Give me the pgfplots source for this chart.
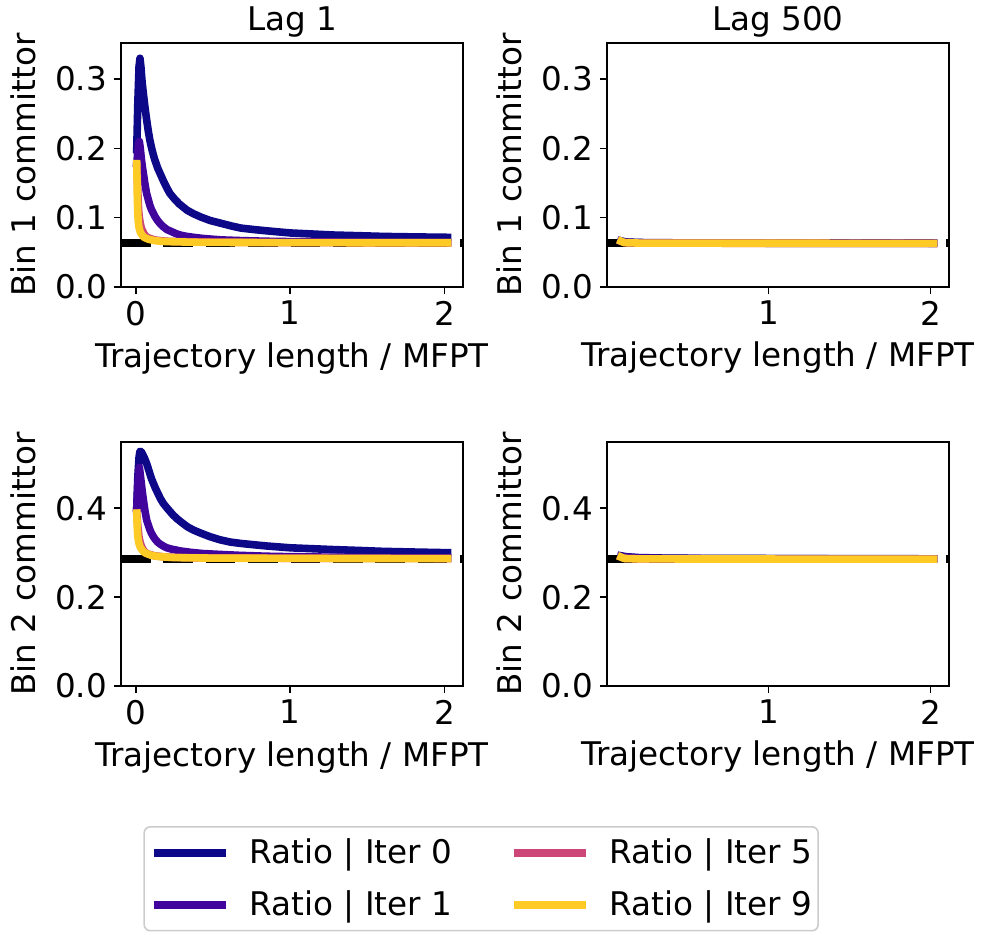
\documentclass[border=0pt]{standalone}
\usepackage{fontspec}
\setmainfont{DejaVu Sans}
\usepackage{pgfplots}
\pgfplotsset{compat=1.18}
\definecolor{c0}{HTML}{0D0887}
\definecolor{c1}{HTML}{41049D}
\definecolor{c5}{HTML}{CC4778}
\definecolor{c9}{HTML}{FDCA26}
\definecolor{legedge}{HTML}{CCCCCC}

\pgfplotsset{
  every axis title/.style={at={(0.5,1)}, anchor=base, yshift=6.5pt},
  base/.style={
    scale only axis, width=171pt, height=122pt,
    anchor=south west,
    axis line style={line width=0.8pt, black},
    every tick/.style={line width=0.8pt, black},
    tick align=outside, major tick length=3.5pt,
    xtick pos=bottom, ytick pos=left,
    font=\fontsize{16.3}{19.5}\selectfont,
    /pgf/number format/assume math mode=true,
    xlabel={Trajectory length / MFPT},
    xlabel style={yshift=-1.5pt},
    ylabel style={yshift=2.5pt},
    scaled y ticks=false,
    y tick label style={/pgf/number format/fixed, /pgf/number format/fixed zerofill, /pgf/number format/precision=1},
    every axis plot/.append style={line width=3.8pt, line cap=rect, line join=round},
  },
  left/.style={xmin=-0.097, xmax=2.12, xtick={0,1,2}},
  right/.style={xmin=0.003, xmax=2.115, xtick={1,2}},
  bin1/.style={ymin=0, ymax=0.352, ytick={0,0.1,0.2,0.3}, ylabel={Bin 1 committor}},
  bin2/.style={ymin=0, ymax=0.549, ytick={0,0.2,0.4}, ylabel={Bin 2 committor}},
  ref/.style={black, line width=4pt, line cap=butt, dash pattern=on 14.8pt off 6.4pt, forget plot},
}

\begin{document}
\begin{tikzpicture}
\path[use as bounding box] (0,0) rectangle (492.5pt,-467pt);

% ---------- top left: Lag 1, Bin 1
\begin{axis}[base, left, bin1, at={(60.5pt,-143.5pt)}, title={Lag 1}]
\addplot[ref] coordinates {(-0.097,0.063) (2.12,0.063)};
\addplot[c0] coordinates {(0.005,0.198) (0.012,0.265) (0.02,0.318) (0.026,0.330) (0.032,0.318) (0.04,0.295) (0.05,0.275) (0.058,0.260) (0.07,0.240) (0.08,0.225) (0.09,0.212) (0.105,0.197) (0.12,0.185) (0.14,0.172) (0.156,0.164) (0.18,0.152) (0.2,0.143) (0.22,0.135) (0.25,0.127) (0.28,0.120) (0.33,0.111) (0.37,0.106) (0.42,0.101) (0.48,0.096) (0.55,0.092) (0.62,0.088) (0.68,0.085) (0.76,0.083) (0.85,0.081) (1.0,0.078) (1.14,0.0765) (1.28,0.075) (1.45,0.074) (1.6,0.073) (1.8,0.0723) (2.02,0.0717)};
\addplot[c1] coordinates {(0.005,0.178) (0.012,0.195) (0.018,0.207) (0.022,0.210) (0.028,0.200) (0.035,0.185) (0.041,0.174) (0.048,0.164) (0.058,0.149) (0.069,0.135) (0.08,0.126) (0.09,0.118) (0.1,0.112) (0.113,0.106) (0.125,0.101) (0.14,0.096) (0.158,0.091) (0.177,0.087) (0.2,0.083) (0.23,0.080) (0.26,0.077) (0.286,0.075) (0.33,0.073) (0.38,0.0715) (0.437,0.070) (0.55,0.068) (0.675,0.067) (0.85,0.066) (1.0,0.0655) (1.5,0.0645) (2.02,0.064)};
\addplot[c5] coordinates {(0.005,0.176) (0.008,0.162) (0.01,0.150) (0.013,0.132) (0.015,0.120) (0.018,0.109) (0.022,0.100) (0.028,0.092) (0.035,0.085) (0.045,0.080) (0.055,0.076) (0.065,0.073) (0.08,0.071) (0.1,0.0695) (0.12,0.068) (0.16,0.0668) (0.2,0.066) (0.3,0.0653) (0.4,0.065) (0.7,0.0645) (1.0,0.064) (2.02,0.0638)};
\addplot[c9] coordinates {(0.005,0.178) (0.007,0.155) (0.009,0.128) (0.012,0.105) (0.015,0.095) (0.018,0.088) (0.024,0.082) (0.03,0.078) (0.04,0.075) (0.05,0.072) (0.065,0.0705) (0.08,0.069) (0.1,0.068) (0.12,0.067) (0.16,0.066) (0.2,0.0655) (0.3,0.065) (0.4,0.0645) (0.7,0.0642) (1.0,0.064) (2.02,0.0638)};
\end{axis}

% ---------- top right: Lag 500, Bin 1
\begin{axis}[base, right, bin1, at={(303.5pt,-143.5pt)}, title={Lag 500}]
\addplot[ref] coordinates {(0.003,0.063) (2.115,0.063)};
\addplot[c0] coordinates {(0.09,0.0665) (0.12,0.065) (0.2,0.0642) (0.5,0.0636) (1.0,0.0634) (2.02,0.0632)};
\addplot[c1] coordinates {(0.09,0.066) (0.12,0.0645) (0.2,0.0638) (0.5,0.0634) (1.0,0.0632) (2.02,0.0631)};
\addplot[c5] coordinates {(0.09,0.066) (0.11,0.064) (0.2,0.0634) (1.0,0.0631) (2.02,0.063)};
\addplot[c9] coordinates {(0.09,0.066) (0.11,0.064) (0.2,0.0634) (1.0,0.0631) (2.02,0.063)};
\end{axis}

% ---------- bottom left: Lag 1, Bin 2
\begin{axis}[base, left, bin2, at={(60.5pt,-343pt)}]
\addplot[ref] coordinates {(-0.097,0.285) (2.12,0.285)};
\addplot[c0] coordinates {(0.005,0.400) (0.012,0.47) (0.02,0.515) (0.026,0.528) (0.035,0.527) (0.045,0.520) (0.056,0.512) (0.069,0.501) (0.08,0.489) (0.09,0.478) (0.1,0.467) (0.113,0.456) (0.125,0.446) (0.14,0.435) (0.158,0.422) (0.177,0.411) (0.2,0.401) (0.22,0.393) (0.24,0.385) (0.264,0.377) (0.3,0.367) (0.335,0.358) (0.372,0.351) (0.42,0.344) (0.48,0.336) (0.545,0.329) (0.61,0.324) (0.675,0.321) (0.76,0.318) (0.85,0.315) (1.0,0.311) (1.14,0.309) (1.28,0.307) (1.45,0.305) (1.6,0.303) (1.8,0.3015) (2.02,0.300)};
\addplot[c1] coordinates {(0.005,0.400) (0.012,0.45) (0.018,0.482) (0.022,0.492) (0.028,0.476) (0.035,0.455) (0.041,0.437) (0.048,0.419) (0.058,0.395) (0.069,0.374) (0.08,0.362) (0.09,0.352) (0.1,0.344) (0.113,0.336) (0.125,0.330) (0.14,0.324) (0.158,0.319) (0.177,0.315) (0.2,0.311) (0.23,0.308) (0.26,0.306) (0.286,0.304) (0.35,0.301) (0.437,0.298) (0.55,0.296) (0.675,0.294) (0.85,0.292) (1.0,0.291) (1.5,0.289) (2.02,0.288)};
\addplot[c5] coordinates {(0.005,0.389) (0.008,0.377) (0.012,0.360) (0.016,0.347) (0.02,0.335) (0.027,0.324) (0.035,0.315) (0.045,0.308) (0.055,0.303) (0.065,0.2995) (0.08,0.297) (0.1,0.295) (0.12,0.293) (0.16,0.2915) (0.2,0.290) (0.3,0.289) (0.4,0.2885) (1.0,0.2875) (2.02,0.287)};
\addplot[c9] coordinates {(0.005,0.389) (0.0065,0.375) (0.008,0.360) (0.01,0.347) (0.012,0.336) (0.016,0.327) (0.02,0.320) (0.025,0.315) (0.03,0.311) (0.04,0.306) (0.05,0.302) (0.06,0.2995) (0.069,0.298) (0.085,0.296) (0.1,0.294) (0.125,0.2925) (0.156,0.291) (0.2,0.290) (0.25,0.289) (0.35,0.2884) (0.5,0.2878) (1.0,0.2872) (2.02,0.2866)};
\end{axis}

% ---------- bottom right: Lag 500, Bin 2
\begin{axis}[base, right, bin2, at={(303.5pt,-343pt)},
  legend columns=2,
  legend style={at={(-0.368,-0.574)}, anchor=north, draw=legedge, line width=0.8pt, rounded corners=3pt,
    font=\fontsize{16.3}{19.5}\selectfont, inner xsep=3pt, inner ysep=6pt, row sep=12pt,
    nodes={inner sep=0pt},
    /tikz/every odd column/.append style={column sep=10pt},
    /tikz/every even column/.append style={column sep=29pt}},
  legend cell align=left,
  legend image code/.code={\draw[#1, line cap=butt] (0pt,0pt) -- (36pt,0pt);},
]
\addplot[ref] coordinates {(0.003,0.285) (2.115,0.285)};
\addplot[c0, forget plot] coordinates {(0.09,0.293) (0.12,0.291) (0.2,0.289) (0.4,0.2875) (1.0,0.2868) (2.02,0.2862)};
\addplot[c1, forget plot] coordinates {(0.09,0.292) (0.12,0.290) (0.2,0.288) (0.4,0.287) (1.0,0.2864) (2.02,0.286)};
\addplot[c5, forget plot] coordinates {(0.09,0.290) (0.11,0.287) (0.2,0.286) (1.0,0.2857) (2.02,0.2855)};
\addplot[c9, forget plot] coordinates {(0.09,0.290) (0.11,0.287) (0.2,0.286) (1.0,0.2857) (2.02,0.2855)};
\addlegendimage{c0, line width=3.8pt}
\addlegendentry{Ratio | Iter 0}
\addlegendimage{c5, line width=3.8pt}
\addlegendentry{Ratio | Iter 5}
\addlegendimage{c1, line width=3.8pt}
\addlegendentry{Ratio | Iter 1}
\addlegendimage{c9, line width=3.8pt}
\addlegendentry{Ratio | Iter 9}
\end{axis}
\end{tikzpicture}
\end{document}
